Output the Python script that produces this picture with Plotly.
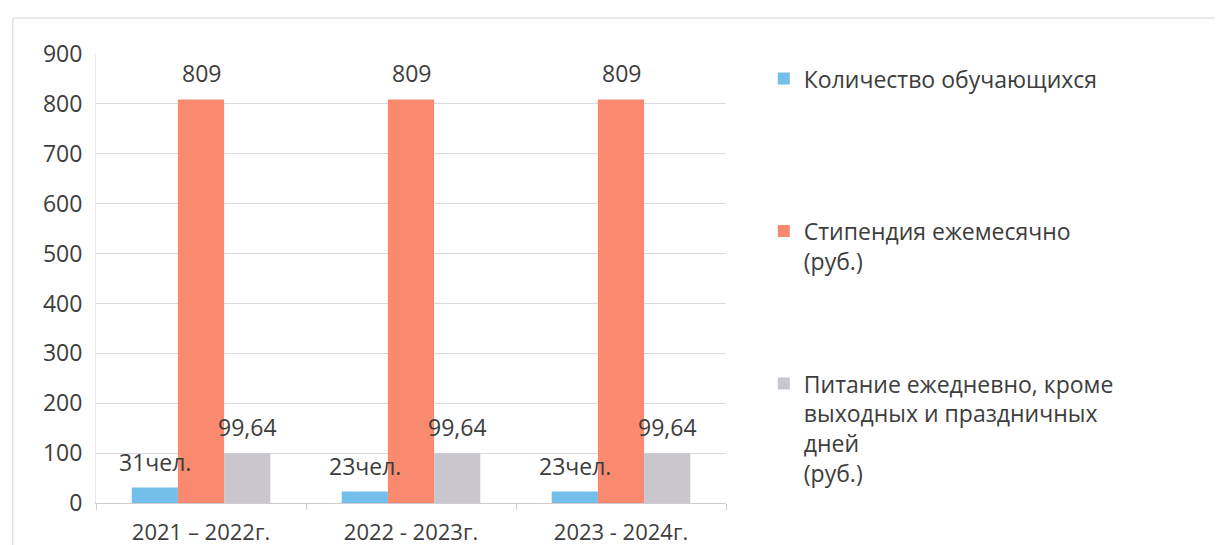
import plotly.graph_objects as go

# ---- data ----
categories = ["2021 – 2022г.", "2022 - 2023г.", "2023 - 2024г."]
students = [31, 23, 23]
stipend = [809, 809, 809]
meals = [99.64, 99.64, 99.64]

series_names = [
    "Количество обучающихся",
    "Стипендия ежемесячно<br>(руб.)",
    "Питание ежедневно, кроме<br>выходных и праздничных<br>дней<br>(руб.)",
]
student_labels = [f"{v}чел." for v in students]
stipend_labels = [str(v) for v in stipend]
meal_labels = [f"{v:.2f}".replace(".", ",") for v in meals]

y_ticks = list(range(0, 1000, 100))

# ---- style ----
colors = ["#74BFEA", "#F98A6F", "#CAC6CE"]
FONT = "Open Sans"
TXT = "#3d3d3d"
FS = 23
# page has an 8px body margin, so the figure is sized to fit the window
W, H = 1215, 537
ML, MR, MT, MB = 88, 497, 46, 42
BARGAP = 0.34

series = [students, stipend, meals]
labels = [student_labels, stipend_labels, meal_labels]

# pad legend names (except the last) so entries are evenly spaced
line_counts = [n.count("<br>") + 1 for n in series_names]
slot = max(line_counts) + 1
legend_names = [n + "<br> " * (slot - c) if k < len(series_names) - 1 else n
                for k, (n, c) in enumerate(zip(series_names, line_counts))]

fig = go.Figure()
for vals, name, col in zip(series, legend_names, colors):
    fig.add_trace(go.Bar(x=categories, y=vals, name=name, marker_color=col,
                         marker_line_width=0))

plot_w = W - ML - MR
cat_w = plot_w / len(categories)
bar_px = cat_w * (1 - BARGAP) / len(series)

annotations = []
for j, labs in enumerate(labels):
    for i, cat in enumerate(categories):
        annotations.append(dict(
            x=cat, y=series[j][i], text=labs[i], showarrow=False,
            xref="x", yref="y", yanchor="middle", xanchor="center",
            xshift=(j - 1) * bar_px, yshift=26,
            font=dict(family=FONT, size=FS, color=TXT),
        ))

fig.update_layout(
    width=W, height=H,
    margin=dict(l=ML, r=MR, t=MT, b=MB, autoexpand=False),
    paper_bgcolor="white", plot_bgcolor="white",
    barmode="group", bargap=BARGAP, bargroupgap=0,
    font=dict(family=FONT, size=FS, color=TXT),
    showlegend=True,
    legend=dict(x=1.06, xanchor="left", y=0.993, yanchor="top",
                valign="top", font=dict(family=FONT, size=FS, color=TXT),
                itemwidth=30, tracegroupgap=0, bgcolor="rgba(0,0,0,0)"),
    annotations=annotations,
    shapes=[dict(type="rect", xref="paper", yref="paper",
                 x0=-0.132, x1=1.9, y0=-0.2, y1=1.08,
                 line=dict(color="#d4d4d4", width=1), layer="below")],
)
fig.update_xaxes(
    type="category", tickson="boundaries", ticks="outside", ticklen=6,
    tickcolor="#cfcbd3", showline=True, linecolor="#cfcbd3", linewidth=1,
    showgrid=False, tickfont=dict(family=FONT, size=FS - 1, color=TXT),
    ticklabelstandoff=10,
)
fig.update_yaxes(
    range=[0, 900], tickvals=y_ticks, showgrid=True, gridcolor="#dcd8e0",
    gridwidth=1, zeroline=False, showline=True, linecolor="#ebe8ee",
    ticks="", tickfont=dict(family=FONT, size=FS, color=TXT), ticklabelstandoff=8,
)

fig.write_html("out.html")
